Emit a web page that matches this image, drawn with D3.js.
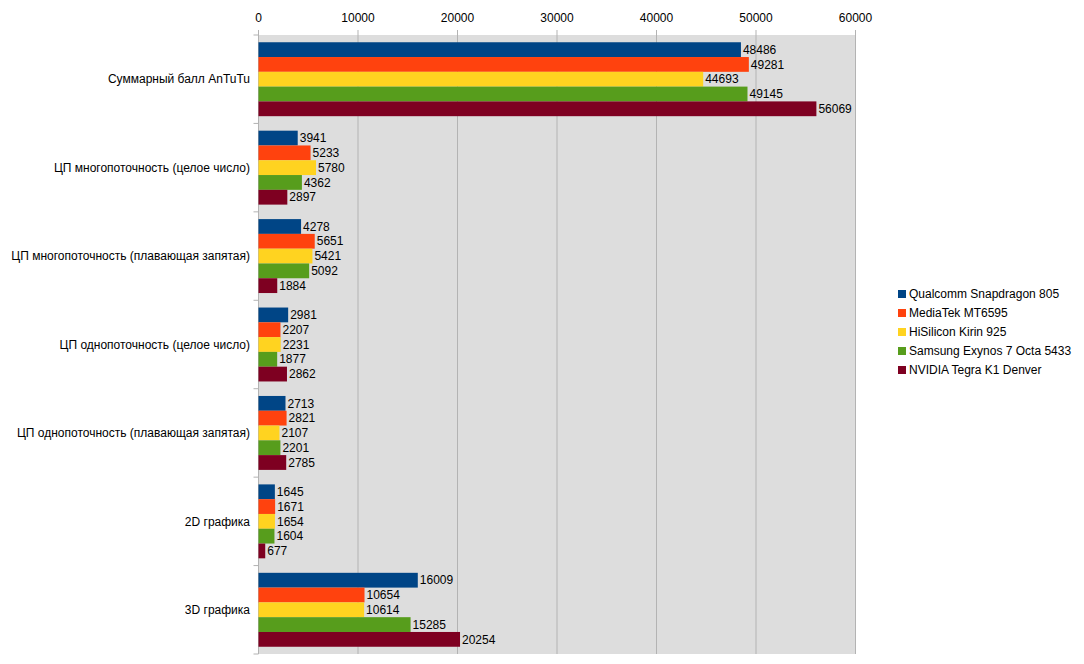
<!DOCTYPE html>
<html>
<head>
<meta charset="utf-8">
<script src="https://cdn.jsdelivr.net/npm/d3@7"></script>
<style>
  body { margin: 0; background: #fff; }
  text { font-family: "Liberation Sans", Arial, sans-serif; font-size: 12px; fill: #000; }
</style>
</head>
<body>
<svg id="chart" width="1084" height="664"></svg>
<script>
// benchmark categories, top to bottom
var categories = [
	'Суммарный балл AnTuTu',
	'ЦП многопоточность (целое число)',
	'ЦП многопоточность (плавающая запятая)',
	'ЦП однопоточность (целое число)',
	'ЦП однопоточность (плавающая запятая)',
	'2D графика',
	'3D графика'
];

var seriesNames = [
	'Qualcomm Snapdragon 805',
	'MediaTek MT6595',
	'HiSilicon Kirin 925',
	'Samsung Exynos 7 Octa 5433',
	'NVIDIA Tegra K1 Denver'
];

// one array per chip, same order as categories
var snapdragon = [48486, 3941, 4278, 2981, 2713, 1645, 16009];
var mediatek   = [49281, 5233, 5651, 2207, 2821, 1671, 10654];
var kirin      = [44693, 5780, 5421, 2231, 2107, 1654, 10614];
var exynos     = [49145, 4362, 5092, 1877, 2201, 1604, 15285];
var tegra      = [56069, 2897, 1884, 2862, 2785, 677, 20254];

var xTicks = [0, 10000, 20000, 30000, 40000, 50000, 60000];

var colors = ['#004586', '#ff420e', '#ffd320', '#579d1c', '#7e0021'];

var seriesValues = [snapdragon, mediatek, kirin, exynos, tegra];

var svg = d3.select('#chart');
var plot = { left: 258.5, top: 35, right: 855.5, bottom: 654 };

var x = d3.scaleLinear().domain([0, 60000]).range([plot.left, plot.right]);
var y = d3.scaleBand().domain(categories).range([plot.top, plot.bottom]).paddingInner(0).paddingOuter(0);
var inner = d3.scaleBand().domain(d3.range(seriesNames.length))
	.range([0, y.bandwidth()]).paddingOuter(0.49).paddingInner(0);

// plot wall
svg.append('rect')
	.attr('x', plot.left).attr('y', plot.top)
	.attr('width', plot.right - plot.left).attr('height', plot.bottom - plot.top)
	.attr('fill', '#dddddd');

// vertical grid
svg.append('g').selectAll('line').data(xTicks).enter().append('line')
	.attr('x1', function(d){ return x(d); }).attr('x2', function(d){ return x(d); })
	.attr('y1', plot.top - 5).attr('y2', plot.bottom)
	.attr('stroke', '#b3b3b3').attr('stroke-width', 1);

// top axis labels
svg.append('g').selectAll('text').data(xTicks).enter().append('text')
	.attr('x', function(d){ return x(d); }).attr('y', 22)
	.attr('text-anchor', 'middle')
	.text(function(d){ return d; });

// left axis line and ticks between categories
svg.append('line')
	.attr('x1', plot.left).attr('x2', plot.left)
	.attr('y1', plot.top).attr('y2', plot.bottom)
	.attr('stroke', '#b3b3b3');
var bounds = categories.map(function(c){ return y(c); }).concat([plot.bottom]);
svg.append('g').selectAll('line').data(bounds).enter().append('line')
	.attr('x1', plot.left - 5).attr('x2', plot.left)
	.attr('y1', function(d){ return d; }).attr('y2', function(d){ return d; })
	.attr('stroke', '#b3b3b3');

// category labels
svg.append('g').selectAll('text').data(categories).enter().append('text')
	.attr('x', 250)
	.attr('y', function(c){ return y(c) + y.bandwidth() / 2; })
	.attr('dy', '0.35em')
	.attr('text-anchor', 'end')
	.text(function(c){ return c; });

// bars + value labels
var flat = [];
seriesValues.forEach(function(vals, s){
	vals.forEach(function(v, i){ flat.push({ s: s, cat: categories[i], v: v }); });
});

var bars = svg.append('g');
bars.selectAll('rect').data(flat).enter().append('rect')
	.attr('x', x(0))
	.attr('y', function(d){ return y(d.cat) + inner(d.s); })
	.attr('width', function(d){ return x(d.v) - x(0); })
	.attr('height', inner.bandwidth())
	.attr('fill', function(d){ return colors[d.s]; });

bars.selectAll('text').data(flat).enter().append('text')
	.attr('x', function(d){ return x(d.v) + 2; })
	.attr('y', function(d){ return y(d.cat) + inner(d.s) + inner.bandwidth() / 2; })
	.attr('dy', '0.35em')
	.text(function(d){ return d.v; });

// legend
var legend = svg.append('g').attr('transform', 'translate(898,294)');
var items = legend.selectAll('g').data(seriesNames).enter().append('g')
	.attr('transform', function(d, i){ return 'translate(0,' + (i * 19) + ')'; });
items.append('rect').attr('x', 0).attr('y', -4).attr('width', 8).attr('height', 8)
	.attr('fill', function(d, i){ return colors[i]; });
items.append('text').attr('x', 11).attr('dy', '0.35em').text(function(d){ return d; });
</script>
</body>
</html>
